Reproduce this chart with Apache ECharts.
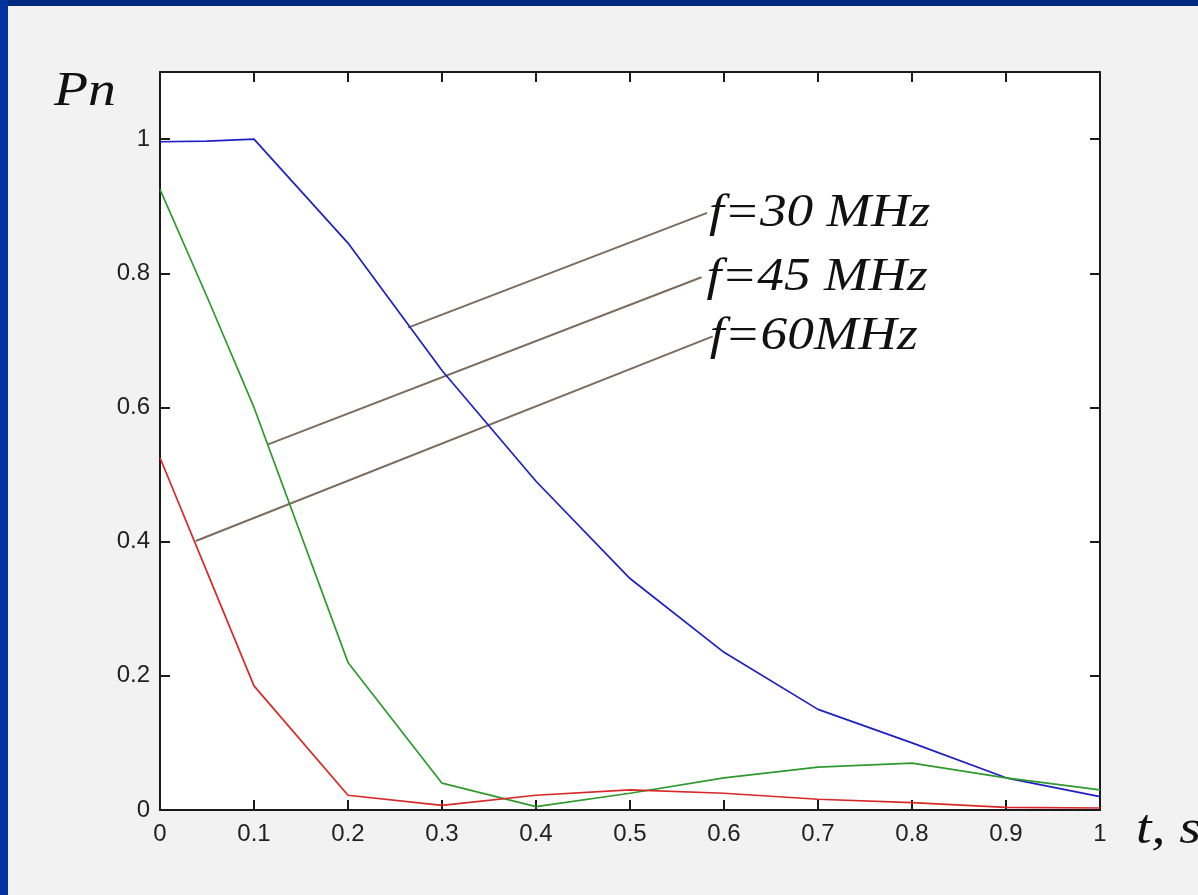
<!DOCTYPE html>
<html>
<head>
<meta charset="utf-8">
<script src="https://cdn.jsdelivr.net/npm/echarts@6/dist/echarts.min.js"></script>
<style>
  html, body { margin: 0; padding: 0; background: #f2f2f2; }
  #chart { position: absolute; left: 0; top: 0; width: 1198px; height: 895px; }
  .edge-top { position: absolute; left: 0; top: 0; width: 1198px; height: 6px; background: #002a80; }
  .edge-left { position: absolute; left: 0; top: 0; width: 8px; height: 895px; background: #0033a0; }
</style>
</head>
<body>
<div id="chart"></div>
<div class="edge-top"></div>
<div class="edge-left"></div>
<script>
// time, s
const times = [0, 0.05, 0.1, 0.2, 0.3, 0.4, 0.5, 0.6, 0.7, 0.8, 0.9, 1.0];
// normalised power Pn for each frequency
const pn30 = [0.996, 0.997, 1.0, 0.845, 0.655, 0.49, 0.345, 0.235, 0.15, 0.10, 0.048, 0.02];
const pn45 = [0.925, 0.765, 0.60, 0.22, 0.04, 0.005, 0.025, 0.048, 0.064, 0.07, 0.048, 0.03];
const pn60 = [0.525, 0.355, 0.185, 0.022, 0.007, 0.022, 0.03, 0.025, 0.016, 0.011, 0.004, 0.003];

const seriesNames = ["f=30 MHz", "f=45 MHz", "f=60MHz"];
// leader lines: [start on curve, end at the label]
const lead30 = [[0.264, 0.719], [0.582, 0.890]];
const lead45 = [[0.115, 0.545], [0.576, 0.794]];
const lead60 = [[0.038, 0.401], [0.588, 0.706]];

const xTicks = { min: 0, max: 1, interval: 0.1 };
const yTicks = { min: 0, max: 1.1, interval: 0.2 };

const chart = echarts.init(document.getElementById("chart"));
const pairs = (ys) => times.map((t, i) => [t, ys[i]]);

const axisLine = { show: true, onZero: false, lineStyle: { color: "#1a1a1a", width: 2 } };
const tick = { show: true, inside: true, length: 10, lineStyle: { color: "#1a1a1a", width: 2 } };
const tickLabel = { color: "#222", fontSize: 24, fontFamily: "Liberation Sans" };

const curve = (name, ys, color) => ({
  name,
  type: "line",
  data: pairs(ys),
  showSymbol: false,
  animation: false,
  lineStyle: { color, width: 1.7 },
  z: 3
});
const leader = (pts) => ({
  type: "line",
  data: pts,
  showSymbol: false,
  animation: false,
  silent: true,
  lineStyle: { color: "#7d6b5d", width: 2 },
  z: 2
});

chart.setOption({
  backgroundColor: "#f2f2f2",
  grid: { left: 160, right: 98, top: 72, bottom: 85, show: true, backgroundColor: "#fff", borderWidth: 0, outerBoundsMode: "none" },
  xAxis: [
    { type: "value", position: "bottom", ...xTicks, axisLine, axisTick: tick, splitLine: { show: false },
      axisLabel: { ...tickLabel, margin: 12 } },
    { type: "value", position: "top", ...xTicks, axisLine, axisTick: tick, splitLine: { show: false },
      axisLabel: { show: false } }
  ],
  yAxis: [
    { type: "value", position: "left", ...yTicks, axisLine, axisTick: tick, splitLine: { show: false },
      axisLabel: { ...tickLabel, margin: 10, showMaxLabel: false } },
    { type: "value", position: "right", ...yTicks, axisLine, axisTick: tick, splitLine: { show: false },
      axisLabel: { show: false } }
  ],
  series: [
    leader(lead30),
    leader(lead45),
    leader(lead60),
    curve(seriesNames[0], pn30, "#1f1fc4"),
    curve(seriesNames[1], pn45, "#2e9a2e"),
    curve(seriesNames[2], pn60, "#d82828")
  ]
});

// text labels, a little stretched like the original figure
const serif = (size) => "italic " + size + "px 'Liberation Serif', 'Times New Roman', serif";
const label = (text, x, y, size) => ({
  type: "text",
  x, y,
  scaleX: 1.16,
  style: { text, font: serif(size), fill: "#111", align: "left", verticalAlign: "middle" }
});

const ends = [lead30[1], lead45[1], lead60[1]].map((p) => chart.convertToPixel({ gridIndex: 0 }, p));
chart.setOption({
  graphic: [
    label(seriesNames[0], ends[0][0] + 2, ends[0][1] + 1, 46),
    label(seriesNames[1], ends[1][0] + 5, ends[1][1] + 1, 46),
    label(seriesNames[2], ends[2][0] - 3, ends[2][1] + 1, 46),
    label("Pn", 54, 92, 48),
    label("t, s", 1136, 830, 48)
  ]
});
</script>
</body>
</html>
